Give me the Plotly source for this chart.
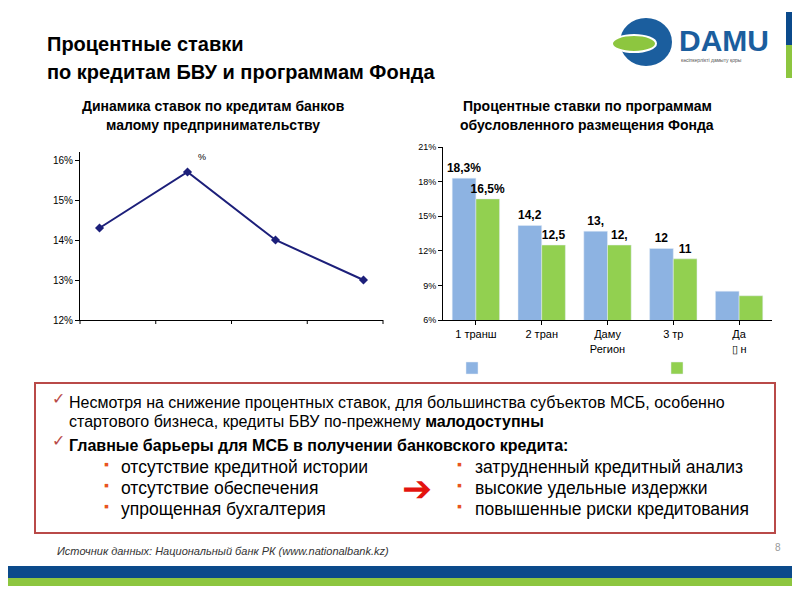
import plotly.graph_objects as go

# Left chart: bank loan rates dynamics
line_x = ['a', 'b', 'c', 'd']
line_rates = [14.3, 15.7, 14.0, 13.0]

# Right chart: Fund programme rates
bar_cats = ['1 транш', '2 тран', 'Даму<br>Регион', '3 тр', 'Да<br>\u25af н']
bank_rates = [18.3, 14.2, 13.7, 12.2, 8.5]
fund_rates = [16.5, 12.5, 12.5, 11.3, 8.1]
bank_labels = ['<b>18,3%</b>', '<b>14,2</b>', '<b>13,</b>', '<b>12</b>', '']
fund_labels = ['<b>16,5%</b>', '<b>12,5</b>', '<b>12,</b>', '<b>11</b>', '']

FONT = 'Liberation Sans'
OFF = 8  # page body margin
W, H = 800 - 2 * OFF, 600 - 2 * OFF

def px(x):
    return (x - OFF) / W

def py(y):
    return 1 - (y - OFF) / H

fig = go.Figure()

fig.add_trace(go.Scatter(
    x=line_x, y=line_rates, mode='lines+markers',
    line=dict(color='#1c1f7a', width=2),
    marker=dict(symbol='diamond', size=7, color='#1c1f7a'),
    xaxis='x', yaxis='y', showlegend=False))

fig.add_trace(go.Bar(
    x=bar_cats, y=bank_rates, name=' ', marker_color='#8db3e2',
    text=bank_labels, textposition='outside', cliponaxis=False,
    textfont=dict(family=FONT, size=12, color='black'),
    xaxis='x2', yaxis='y2'))
fig.add_trace(go.Bar(
    x=bar_cats, y=fund_rates, name='  ', marker_color='#92d050',
    text=fund_labels, textposition='outside', cliponaxis=False,
    textfont=dict(family=FONT, size=12, color='black'),
    xaxis='x2', yaxis='y2'))

axis_common = dict(showline=True, linecolor='black', linewidth=1, ticks='outside',
                   ticklen=4, tickcolor='black', showgrid=False, zeroline=False)

fig.update_layout(
    width=W, height=H, margin=dict(l=0, r=0, t=0, b=0, autoexpand=False),
    paper_bgcolor='white', plot_bgcolor='white',
    font=dict(family=FONT, color='black'),
    barmode='group', bargap=0.28, bargroupgap=0,
    uniformtext=dict(minsize=12, mode='show'),
    xaxis=dict(domain=[px(80), px(383)], anchor='y', showticklabels=False,
               tickmode='array', tickvals=[], **{k: v for k, v in axis_common.items() if k != 'ticks'}),
    yaxis=dict(domain=[py(320), py(152)], anchor='x', range=[12, 16.2],
               tickvals=[12, 13, 14, 15, 16], ticktext=['12%', '13%', '14%', '15%', '16%'],
               tickfont=dict(size=10, family=FONT), **axis_common),
    xaxis2=dict(domain=[px(443), px(772)], anchor='y2',
                tickfont=dict(size=11, family=FONT), **axis_common),
    yaxis2=dict(domain=[py(320), py(147)], anchor='x2', range=[6, 21],
                tickvals=[6, 9, 12, 15, 18, 21], ticktext=['6%', '9%', '12%', '15%', '18%', '21%'],
                tickfont=dict(size=9, family=FONT), **axis_common),
    legend=dict(orientation='h', x=px(452), y=py(368), xanchor='left', yanchor='middle',
                itemwidth=30, entrywidth=160, font=dict(size=5), bgcolor='rgba(0,0,0,0)'),
)

# tick marks between line-chart categories
for i in range(5):
    xx = 80 + i * (383 - 80) / 4
    fig.add_shape(type='line', xref='paper', yref='paper', x0=px(xx), x1=px(xx),
                  y0=py(320), y1=py(324), line=dict(color='black', width=1))

def text(x, y, s, size=12, color='black', bold=False, anchor='left', italic=False):
    if bold:
        s = '<b>' + s + '</b>'
    if italic:
        s = '<i>' + s + '</i>'
    fig.add_annotation(x=px(x), y=py(y), xref='paper', yref='paper', text=s, showarrow=False,
                       xanchor=anchor, yanchor='middle',
                       font=dict(family=FONT, size=size, color=color))

text(45, 44, 'Процентные ставки', 20, bold=True)
text(45, 72, 'по кредитам БВУ и программам Фонда', 20, bold=True)
text(213, 106, 'Динамика ставок по кредитам банков', 14, bold=True, anchor='center')
text(213, 125, 'малому предпринимательству', 14, bold=True, anchor='center')
text(587, 106, 'Процентные ставки по программам', 14, bold=True, anchor='center')
text(587, 125, 'обусловленного размещения Фонда', 14, bold=True, anchor='center')
text(202, 157, '%', 9, anchor='center')

# logo
fig.add_shape(type='circle', xref='paper', yref='paper', x0=px(620), x1=px(672), y0=py(66), y1=py(18),
              fillcolor='#1b5e9e', line=dict(width=0))
fig.add_shape(type='circle', xref='paper', yref='paper', x0=px(612), x1=px(656), y0=py(52), y1=py(35),
              fillcolor='#8dc63f', line=dict(color='white', width=2))
text(677, 40, 'DAMU', 30, color='#1b5e9e', bold=True)
text(679, 60, 'кәсіпкерлікті дамыту қоры', 5, color='#555555')
fig.add_shape(type='rect', xref='paper', yref='paper', x0=px(786), x1=1, y0=py(45), y1=py(12),
              fillcolor='#0b4a8b', line=dict(width=0))
fig.add_shape(type='rect', xref='paper', yref='paper', x0=px(786), x1=1, y0=py(78), y1=py(45),
              fillcolor='#8dc63f', line=dict(width=0))

# text box
fig.add_shape(type='rect', xref='paper', yref='paper', x0=px(35), x1=px(775), y0=py(533), y1=py(383),
              line=dict(color='#b94a48', width=2), fillcolor='white')
text(50, 398, '✓', 16, color='#b94a48')
text(67, 402, 'Несмотря на снижение процентных ставок, для большинства субъектов МСБ, особенно', 16)
text(67, 422, 'стартового бизнеса, кредиты БВУ по-прежнему <b>малодоступны</b>', 16)
text(50, 440, '✓', 16, color='#b94a48')
text(67, 445, 'Главные барьеры для МСБ в получении банковского кредита:', 16, bold=True)
left_items = ['отсутствие кредитной истории', 'отсутствие обеспечения', 'упрощенная бухгалтерия']
right_items = ['затрудненный кредитный анализ', 'высокие удельные издержки', 'повышенные риски кредитования']
for i, (a, b) in enumerate(zip(left_items, right_items)):
    y = 467 + i * 21
    text(102, y - 3, '▪', 14, color='#e8541f')
    text(119, y, a, 17.5)
    text(455, y - 3, '▪', 14, color='#e8541f')
    text(473, y, b, 17.5)
text(417, 488, '➔', 36, color='#e3140f', anchor='center')

text(55, 551, 'Источник данных: Национальный банк РК (www.nationalbank.kz)', 11, color='#333333', italic=True)
text(783, 547, '8', 10, color='#999999', anchor='right')

fig.add_shape(type='rect', xref='paper', yref='paper', x0=0, x1=1, y0=py(578), y1=py(566),
              fillcolor='#0b4a8b', line=dict(width=0))
fig.add_shape(type='rect', xref='paper', yref='paper', x0=0, x1=1, y0=py(586), y1=py(578),
              fillcolor='#8dc63f', line=dict(width=0))

fig.write_html('out.html')
